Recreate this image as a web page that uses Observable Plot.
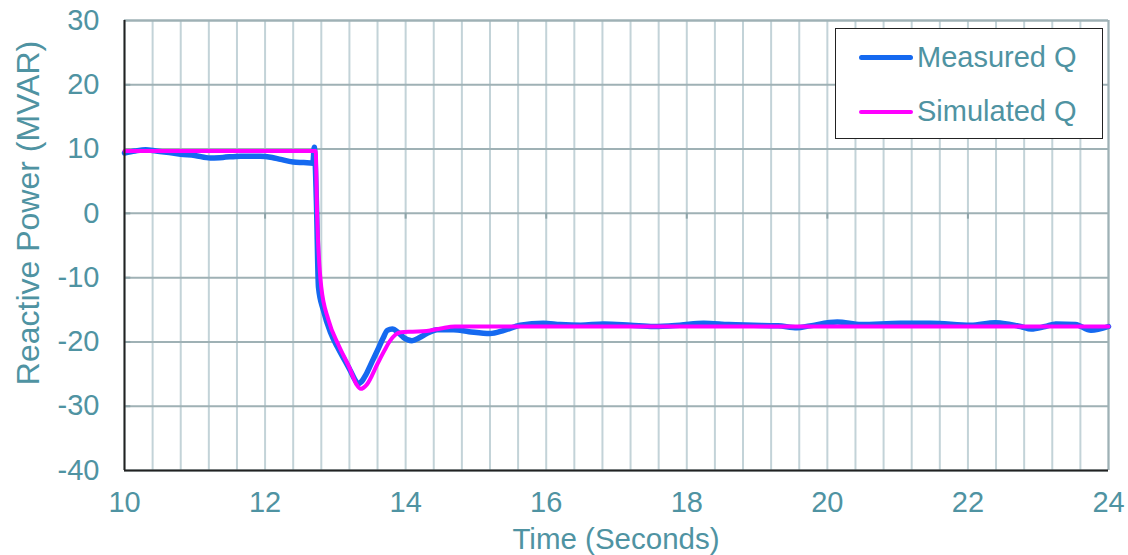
<!DOCTYPE html>
<html>
<head>
<meta charset="utf-8">
<script src="https://cdn.jsdelivr.net/npm/d3@7"></script>
<script src="https://cdn.jsdelivr.net/npm/@observablehq/plot@0.6"></script>
<style>
  html, body { margin: 0; padding: 0; background: #fff; }
  #wrap { position: relative; width: 1128px; height: 555px; font-family: "Liberation Sans", Arial, sans-serif; color: #4f93a2; }
  .ytitle { position: absolute; left: 28px; top: 213px; transform: translate(-50%, -50%) rotate(-90deg); font-size: 32px; white-space: nowrap; line-height: 1; }
  .xtitle { position: absolute; left: 616px; top: 553px; transform: translate(-50%, -100%); font-size: 29.5px; white-space: nowrap; line-height: 1; }
  .legend { position: absolute; left: 835px; top: 28px; width: 268px; height: 111px; border: 1.5px solid #222; background: #fff; box-sizing: border-box; }
  .legend .row { position: absolute; left: 23px; display: flex; align-items: center; font-size: 29px; line-height: 1; }
  .legend .sw { width: 54px; height: 0; margin-right: 4px; border-radius: 3px; }
</style>
</head>
<body>
<div id="wrap"></div>
<script>
// ---- data ----
const measuredTime = [10.0,10.15,10.3,10.45,10.6,10.8,11.0,11.22,11.4,11.65,11.93,12.1,12.22,12.4,12.55,12.68,12.70,12.73,12.76,12.83,12.93,13.03,13.12,13.21,13.28,13.32,13.37,13.43,13.5,13.6,13.68,13.74,13.81,13.9,13.97,14.09,14.2,14.3,14.45,14.68,14.9,15.2,15.4,15.63,15.96,16.2,16.49,16.82,17.2,17.53,17.9,18.24,18.6,18.95,19.3,19.57,19.75,20.14,20.48,21.04,21.47,22.04,22.39,22.6,22.75,22.9,23.1,23.25,23.53,23.75,24.0];
const measuredQ = [9.4,9.7,9.9,9.7,9.5,9.2,9.0,8.6,8.7,8.9,8.9,8.7,8.4,8.0,7.9,7.8,10.3,2,-11.5,-15.1,-18.5,-20.8,-22.6,-24.4,-25.9,-26.5,-26.2,-25.2,-23.6,-21.3,-19.4,-18.2,-18.0,-18.6,-19.3,-19.8,-19.3,-18.7,-18.1,-18.1,-18.4,-18.7,-18.2,-17.4,-17.1,-17.3,-17.4,-17.2,-17.4,-17.6,-17.4,-17.1,-17.3,-17.4,-17.5,-17.8,-17.5,-16.9,-17.3,-17.1,-17.1,-17.4,-17.0,-17.3,-17.6,-18.0,-17.6,-17.2,-17.3,-18.2,-17.6];
const simulatedTime = [10,12.72,12.74,12.8,12.9,13.05,13.2,13.3,13.36,13.45,13.6,13.7,13.78,13.93,14.1,14.3,14.5,14.7,15.0,24.0];
const simulatedQ = [9.7,9.7,0,-11.5,-16.5,-20.6,-24.0,-26.6,-27.3,-26.6,-23.4,-21.3,-19.8,-18.5,-18.4,-18.3,-17.9,-17.6,-17.6,-17.6];
const xTicks = [10,12,14,16,18,20,22,24];
const yTicks = [30,20,10,0,-10,-20,-30,-40];
const xGrid = d3.range(0, 36).map(i => 10 + i * 0.4);
const seriesNames = ["Measured Q", "Simulated Q"];
const seriesColors = ["#1569f0", "#ff00ff"];

const measured = measuredTime.map((t, i) => ({t, q: measuredQ[i]}));
const simulated = simulatedTime.map((t, i) => ({t, q: simulatedQ[i]}));

const textColor = "#4f93a2";

const chart = Plot.plot({
  width: 1128,
  height: 555,
  marginLeft: 124,
  marginRight: 20,
  marginTop: 20,
  marginBottom: 85,
  style: {fontFamily: "Liberation Sans, Arial, sans-serif", fontSize: "29px", color: textColor, background: "white"},
  x: {type: "linear", domain: [10, 24], ticks: xTicks},
  y: {type: "linear", domain: [-40, 30], ticks: yTicks},
  marks: [
    Plot.ruleX(xGrid, {stroke: "#c3d3d8", strokeWidth: 2}),
    Plot.ruleY(yTicks, {stroke: "#9fb1b5", strokeWidth: 2}),
    Plot.ruleX([24], {stroke: "#9fb1b5", strokeWidth: 2}),
    Plot.ruleY([30], {stroke: "#9fb1b5", strokeWidth: 2}),
    Plot.ruleX(xTicks.slice(1, -1), {y1: 0, y2: -0.9, stroke: "#8fa5aa", strokeWidth: 2}),
    Plot.ruleY(yTicks.slice(1, -1), {x1: 10, x2: 10.09, stroke: "#8fa5aa", strokeWidth: 2}),
    Plot.axisY({ticks: yTicks, tickSize: 0, tickPadding: 25, label: null, fontSize: 29, fill: textColor, tickFormat: d => String(d)}),
    Plot.axisX({ticks: xTicks, tickSize: 0, tickPadding: 21, label: null, fontSize: 29, fill: textColor, tickFormat: d => String(d)}),
    Plot.line(measured, {x: "t", y: "q", stroke: seriesColors[0], strokeWidth: 5.5, strokeLinejoin: "round", strokeLinecap: "round", curve: "monotone-x"}),
    Plot.line(simulated, {x: "t", y: "q", stroke: seriesColors[1], strokeWidth: 4, strokeLinejoin: "round", curve: "monotone-x"}),
    Plot.ruleX([10], {stroke: "#222", strokeWidth: 2}),
    Plot.ruleY([-40], {stroke: "#222", strokeWidth: 2})
  ]
});

const wrap = document.getElementById("wrap");
wrap.appendChild(chart);

const yt = document.createElement("div");
yt.className = "ytitle";
yt.textContent = "Reactive Power (MVAR)";
wrap.appendChild(yt);

const xt = document.createElement("div");
xt.className = "xtitle";
xt.textContent = "Time (Seconds)";
wrap.appendChild(xt);

const lg = document.createElement("div");
lg.className = "legend";
seriesNames.forEach((name, i) => {
  const row = document.createElement("div");
  row.className = "row";
  row.style.top = (i === 0 ? 14 : 68) + "px";
  const sw = document.createElement("div");
  sw.className = "sw";
  sw.style.borderTop = (i === 0 ? 5 : 4) + "px solid " + seriesColors[i];
  const tx = document.createElement("span");
  tx.textContent = name;
  row.appendChild(sw);
  row.appendChild(tx);
  lg.appendChild(row);
});
wrap.appendChild(lg);
</script>
</body>
</html>
